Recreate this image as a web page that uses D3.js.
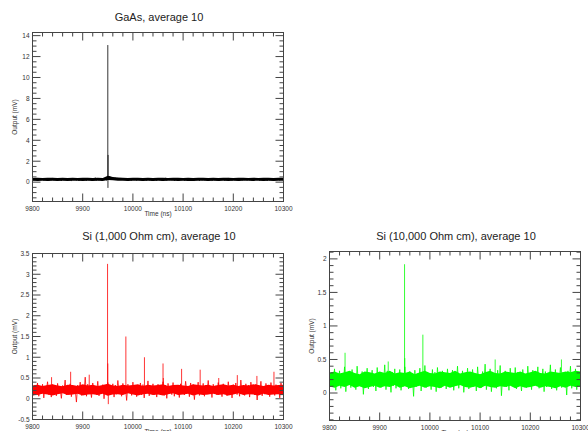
<!DOCTYPE html>
<html lang="en">
<head>
<meta charset="UTF-8">
<title>Output traces, average 10</title>
<script src="https://d3js.org/d3.v7.min.js"></script>
<style>
  body { margin: 0; background: #fff; }
  svg { display: block; font-family: "Liberation Sans", Arial, sans-serif; }
  .frame { fill: none; stroke: #444; stroke-width: 1; }
  .tick { stroke: #444; stroke-width: 1; }
  .ticklabel { font-size: 6.5px; fill: #333; }
  .axislabel { font-size: 6.5px; fill: #333; }
  .title { font-size: 11px; fill: #222; }
  .trace { fill: none; stroke-width: 0.8; }
</style>
</head>
<body>
<div id="chart"></div>
<script>
// ---- data ----
const timeStart = 9800;   // ns, first sample
const timeStep = 2.5;     // ns between samples of the traces
const bandStep = 10;      // ns between samples of the dense noise band
const xTicks = [9800, 9900, 10000, 10100, 10200, 10300];

const gaasTrace = [
  0.32,0.18,0.36,0.21,0.29,0.15,0.38,0.24,0.31,0.17,0.35,0.20,0.27,0.14,0.33,0.22,0.40,0.19,0.30,0.16,
  0.34,0.23,0.28,0.13,0.37,0.20,0.31,0.18,0.39,0.22,0.26,0.15,0.35,0.21,0.29,0.17,0.33,0.12,0.36,0.24,
  0.30,0.19,0.38,0.16,0.28,0.21,0.34,0.14,0.31,0.23,0.42,0.18,0.27,0.20,0.35,0.15,0.32,0.22,0.29,0.17,
  0.36,0.55,0.48,0.42,0.45,0.33,0.40,0.28,0.37,0.25,0.34,0.21,0.38,0.26,0.31,0.19,0.35,0.23,0.29,0.18,
  0.33,0.20,0.37,0.16,0.30,0.24,0.36,0.18,0.28,0.21,0.39,0.15,0.32,0.22,0.27,0.17,0.35,0.19,0.31,0.14,
  0.38,0.23,0.29,0.18,0.34,0.20,0.41,0.16,0.30,0.22,0.36,0.19,0.27,0.13,0.33,0.24,0.31,0.17,0.37,0.21,
  0.28,0.15,0.35,0.20,0.32,0.18,0.39,0.22,0.26,0.16,0.34,0.21,0.30,0.14,0.37,0.19,0.29,0.23,0.33,0.17,
  0.36,0.20,0.31,0.15,0.27,0.22,0.38,0.18,0.33,0.13,0.30,0.21,0.35,0.17,0.28,0.24,0.40,0.19,0.32,0.16,
  0.29,0.22,0.34,0.18,0.37,0.14,0.31,0.20,0.27,0.23,0.36,0.17,0.33,0.21,0.28,0.15,0.35,0.19,0.30,0.24,
  0.32,0.16,0.38,0.21,0.26,0.18,0.34,0.13,0.31,0.22,0.29,0.19,0.37,0.15,0.33,0.20,0.35,0.17,0.30,0.23,
  0.27
];
const gaasLow = [
  0.13,0.12,0.14,0.12,0.13,0.11,0.13,0.12,0.14,0.13,0.12,0.13,0.11,0.14,0.12,0.20,0.18,0.14,0.13,0.12,
  0.13,0.14,0.12,0.13,0.11,0.13,0.12,0.14,0.13,0.12,0.13,0.11,0.12,0.14,0.13,0.12,0.13,0.12,0.14,0.11,
  0.13,0.12,0.13,0.14,0.12,0.13,0.11,0.13,0.12,0.14,0.13
];
const gaasHigh = [
  0.40,0.42,0.39,0.41,0.43,0.40,0.42,0.39,0.41,0.40,0.43,0.41,0.39,0.42,0.40,0.62,0.50,0.44,0.42,0.40,
  0.41,0.43,0.40,0.42,0.39,0.41,0.43,0.40,0.42,0.41,0.39,0.42,0.40,0.43,0.41,0.40,0.42,0.39,0.41,0.43,
  0.40,0.42,0.41,0.39,0.42,0.40,0.43,0.41,0.40,0.42,0.41
];
// [time ns, value mV]
const gaasSpikes = [[9950, 13.1], [9950.6, 2.6], [9950.3, -0.55]];
const gaasBase = 0.27;
const gaasYTicks = [0, 2, 4, 6, 8, 10, 12, 14];

const si1kTrace = [
  0.28,0.08,0.33,0.15,0.38,0.06,0.25,0.12,0.35,0.02,0.30,0.18,0.41,0.10,0.24,0.04,0.34,0.16,0.29,0.07,
  0.37,0.13,0.26,0.01,0.32,0.19,0.45,0.09,0.27,0.11,0.36,0.05,0.31,0.17,0.23,-0.08,0.33,0.14,0.40,0.08,
  0.29,0.12,0.52,0.06,0.35,0.15,0.26,0.03,0.38,0.18,0.30,0.10,0.42,0.07,0.28,0.13,0.34,0.00,0.31,0.16,
  0.39,0.09,0.27,0.14,0.36,0.04,0.33,0.11,0.44,0.17,0.25,0.06,0.37,0.12,0.30,-0.04,0.35,0.15,0.28,0.08,
  0.40,0.13,0.32,0.05,0.27,0.18,0.38,0.09,0.34,0.02,0.29,0.14,0.43,0.07,0.31,0.16,0.36,0.10,0.26,0.04,
  0.35,0.12,0.30,0.19,0.41,0.08,0.33,0.01,0.37,0.15,0.28,0.10,0.39,0.06,0.32,0.17,0.27,0.03,0.36,0.13,
  0.31,0.09,0.42,0.16,0.29,0.05,0.38,0.12,0.34,-0.02,0.30,0.18,0.40,0.08,0.26,0.14,0.37,0.06,0.33,0.11,
  0.44,0.15,0.28,0.03,0.35,0.17,0.31,0.09,0.39,0.12,0.27,0.05,0.36,0.19,0.32,0.07,0.41,0.13,0.29,0.02,
  0.34,0.16,0.38,0.10,0.30,0.06,0.45,0.14,0.28,0.08,0.36,0.12,0.33,0.04,0.40,0.17,0.27,0.09,0.35,-0.03,
  0.31,0.15,0.42,0.07,0.29,0.11,0.37,0.18,0.33,0.05,0.39,0.13,0.26,0.08,0.34,0.16,0.30,0.02,0.38,0.12,
  0.30
];
const si1kLow = [
  0.11,0.09,0.12,0.10,0.08,0.11,0.13,0.09,0.10,0.12,0.08,0.10,0.11,0.09,0.12,0.07,0.10,0.11,0.09,0.13,
  0.10,0.08,0.11,0.12,0.09,0.10,0.08,0.11,0.13,0.09,0.10,0.12,0.08,0.11,0.09,0.10,0.12,0.09,0.11,0.08,
  0.10,0.13,0.09,0.11,0.10,0.08,0.12,0.09,0.10,0.11,0.09
];
const si1kHigh = [
  0.32,0.34,0.31,0.33,0.35,0.32,0.30,0.34,0.33,0.31,0.35,0.32,0.34,0.31,0.33,0.36,0.32,0.31,0.34,0.32,
  0.33,0.35,0.31,0.34,0.32,0.33,0.35,0.31,0.33,0.34,0.32,0.31,0.35,0.33,0.32,0.34,0.31,0.33,0.35,0.32,
  0.34,0.31,0.33,0.32,0.35,0.33,0.31,0.34,0.32,0.33,0.34
];
const si1kSpikes = [
  [9838, 0.52], [9876, 0.65], [9913, 0.58], [9949.5, 3.25], [9950, 0.85], [9951, -0.13],
  [9986, 1.5], [10023, 1.0], [10060, 0.85], [10060.6, 0.5], [10097, 0.72], [10134, 0.7],
  [10171, 0.5], [10208, 0.57], [10247, 0.55], [10281, 0.65]
];
const si1kBase = 0.22;
const si1kYTicks = [-0.5, 0, 0.5, 1, 1.5, 2, 2.5, 3, 3.5];

const si10kTrace = [
  0.26,0.09,0.31,0.14,0.36,0.04,0.22,0.17,0.33,0.07,0.28,0.12,0.39,0.02,0.24,0.15,0.30,0.08,0.35,0.11,
  0.27,0.05,0.40,0.16,0.23,0.10,0.32,-0.02,0.29,0.13,0.37,0.06,0.25,0.18,0.34,0.09,0.21,0.03,0.38,0.14,
  0.30,0.08,0.26,0.12,0.42,0.05,0.33,0.16,0.24,0.01,0.31,0.11,0.36,0.07,0.28,0.15,0.35,0.04,0.22,0.10,
  0.39,0.13,0.27,0.06,0.32,0.17,0.25,-0.05,0.34,0.09,0.29,0.14,0.37,0.03,0.23,0.12,0.41,0.08,0.30,0.16,
  0.26,0.05,0.35,0.11,0.31,0.02,0.38,0.15,0.24,0.08,0.33,0.13,0.28,0.06,0.36,0.10,0.22,0.17,0.34,0.04,
  0.30,0.12,0.40,0.07,0.27,0.16,0.33,0.01,0.25,0.11,0.37,0.06,0.29,0.14,0.35,0.09,0.23,0.03,0.39,0.13,
  0.28,0.08,0.32,0.15,0.43,0.05,0.26,0.12,0.36,0.02,0.30,0.17,0.24,0.07,0.34,0.11,0.41,-0.04,0.27,0.14,
  0.33,0.09,0.29,0.04,0.37,0.16,0.25,0.10,0.38,0.06,0.31,0.13,0.22,0.03,0.35,0.12,0.28,0.08,0.40,0.15,
  0.26,0.05,0.34,0.11,0.30,0.17,0.39,0.07,0.23,0.13,0.36,0.02,0.32,0.09,0.27,0.14,0.42,0.06,0.29,0.10,
  0.35,0.04,0.24,0.16,0.38,0.08,0.31,0.12,0.27,-0.03,0.33,0.15,0.40,0.07,0.25,0.11,0.36,0.05,0.30,0.13,
  0.28
];
const si10kLow = [
  0.10,0.08,0.11,0.09,0.12,0.08,0.10,0.07,0.09,0.11,0.08,0.10,0.09,0.12,0.08,0.10,0.07,0.09,0.11,0.08,
  0.10,0.09,0.07,0.11,0.08,0.10,0.12,0.09,0.08,0.10,0.07,0.11,0.09,0.08,0.10,0.09,0.11,0.07,0.10,0.08,
  0.09,0.11,0.08,0.10,0.09,0.07,0.10,0.08,0.11,0.09,0.10
];
const si10kHigh = [
  0.30,0.32,0.29,0.31,0.33,0.30,0.28,0.32,0.31,0.29,0.32,0.30,0.33,0.29,0.31,0.30,0.32,0.28,0.31,0.33,
  0.30,0.29,0.32,0.31,0.30,0.33,0.29,0.31,0.32,0.30,0.28,0.31,0.33,0.30,0.29,0.32,0.31,0.30,0.32,0.29,
  0.31,0.33,0.30,0.29,0.32,0.31,0.30,0.32,0.31,0.33,0.32
];
const si10kSpikes = [
  [9831, 0.6], [9917, 0.47], [9949.5, 1.92], [9950, 0.52], [9986, 0.87],
  [10130, 0.5], [10262, 0.5]
];
const si10kBase = 0.2;
const si10kYTicks = [0, 0.5, 1, 1.5, 2];

// ---- layout ----
const width = 588, height = 431;
const panels = [
  { title: "GaAs, average 10", trace: gaasTrace, low: gaasLow, high: gaasHigh,
    spikes: gaasSpikes, base: gaasBase,
    yTicks: gaasYTicks, yMinor: 0.5, yDomain: [-1.85, 14.3], color: "#000",
    left: 32.5, right: 283.5, top: 32.5, bottom: 201.5, titleY: 20.7 },
  { title: "Si (1,000 Ohm cm), average 10", trace: si1kTrace, low: si1kLow, high: si1kHigh,
    spikes: si1kSpikes, base: si1kBase,
    yTicks: si1kYTicks, yMinor: 0.1, yDomain: [-0.5, 3.5], color: "#ff0000",
    left: 32.5, right: 283.5, top: 253.5, bottom: 419.5, titleY: 240 },
  { title: "Si (10,000 Ohm cm), average 10", trace: si10kTrace, low: si10kLow, high: si10kHigh,
    spikes: si10kSpikes, base: si10kBase,
    yTicks: si10kYTicks, yMinor: 0.1, yDomain: [-0.41, 2.11], color: "#00ff00",
    left: 329.5, right: 580.5, top: 251.5, bottom: 420.5, titleY: 240 }
];

const svg = d3.select("#chart").append("svg")
  .attr("width", width)
  .attr("height", height);

panels.forEach((p, k) => {
  const g = svg.append("g");
  const x = d3.scaleLinear().domain([xTicks[0], xTicks[xTicks.length - 1]]).range([p.left, p.right]);
  const y = d3.scaleLinear().domain(p.yDomain).range([p.bottom, p.top]);

  g.append("clipPath").attr("id", "clip" + k)
    .append("rect")
    .attr("x", p.left).attr("y", p.top)
    .attr("width", p.right - p.left).attr("height", p.bottom - p.top);

  const plot = g.append("g").attr("clip-path", `url(#clip${k})`);

  // spikes first, then the noise over them
  plot.selectAll("line.spike")
    .data(p.spikes)
    .enter()
    .append("line")
    .attr("class", "spike")
    .attr("x1", d => x(d[0])).attr("x2", d => x(d[0]))
    .attr("y1", y(p.base)).attr("y2", d => y(d[1]))
    .attr("stroke", p.color)
    .attr("stroke-width", 0.8);

  const line = d3.line()
    .x((d, i) => x(timeStart + i * timeStep))
    .y(d => y(d));

  plot.append("path")
    .datum(p.trace)
    .attr("class", "trace")
    .attr("stroke", p.color)
    .attr("d", line);

  // dense part of the noise band
  const band = d3.area()
    .x((d, i) => x(timeStart + i * bandStep))
    .y0((d, i) => y(p.low[i]))
    .y1(d => y(d));

  plot.append("path")
    .datum(p.high)
    .attr("fill", p.color)
    .attr("d", band);

  // frame
  g.append("rect")
    .attr("class", "frame")
    .attr("x", p.left).attr("y", p.top)
    .attr("width", p.right - p.left).attr("height", p.bottom - p.top);

  // x ticks, bottom and top, pointing inward
  const xMinor = d3.range(xTicks[0], xTicks[xTicks.length - 1] + 0.001, 20);
  const tickLines = [];
  xMinor.forEach(v => {
    const len = xTicks.includes(v) ? 8 : 4;
    tickLines.push([x(v), p.bottom, x(v), p.bottom - len]);
    tickLines.push([x(v), p.top, x(v), p.top + len]);
  });
  // y ticks, left and right
  const yLo = Math.ceil(p.yDomain[0] / p.yMinor - 1e-6) * p.yMinor;
  const yMinorVals = d3.range(yLo, p.yDomain[1] + 1e-6, p.yMinor);
  yMinorVals.forEach(v => {
    const isMajor = p.yTicks.some(t => Math.abs(t - v) < 1e-6);
    const len = isMajor ? 8 : 4;
    tickLines.push([p.left, y(v), p.left + len, y(v)]);
    tickLines.push([p.right, y(v), p.right - len, y(v)]);
  });
  g.selectAll("line.tick")
    .data(tickLines)
    .enter()
    .append("line")
    .attr("class", "tick")
    .attr("x1", d => d[0]).attr("y1", d => d[1])
    .attr("x2", d => d[2]).attr("y2", d => d[3]);

  g.selectAll("text.xlab")
    .data(xTicks)
    .enter()
    .append("text")
    .attr("class", "ticklabel")
    .attr("x", d => x(d))
    .attr("y", p.bottom + 9)
    .attr("text-anchor", "middle")
    .text(d => String(d));

  g.selectAll("text.ylab")
    .data(p.yTicks)
    .enter()
    .append("text")
    .attr("class", "ticklabel")
    .attr("x", p.left - 3)
    .attr("y", d => y(d) + 2.3)
    .attr("text-anchor", "end")
    .text(d => String(d));

  // the reference photo cuts the lower panels' x titles at the bottom edge
  g.append("text")
    .attr("class", "axislabel")
    .attr("x", (p.left + p.right) / 2)
    .attr("y", p.bottom + 14)
    .attr("text-anchor", "middle")
    .text("Time (ns)");

  g.append("text")
    .attr("class", "axislabel")
    .attr("transform", `translate(${p.left - 16},${(p.top + p.bottom) / 2}) rotate(-90)`)
    .attr("text-anchor", "middle")
    .text("Output (mV)");

  g.append("text")
    .attr("class", "title")
    .attr("x", (p.left + p.right) / 2 + 1)
    .attr("y", p.titleY)
    .attr("text-anchor", "middle")
    .text(p.title);
});
</script>
</body>
</html>
